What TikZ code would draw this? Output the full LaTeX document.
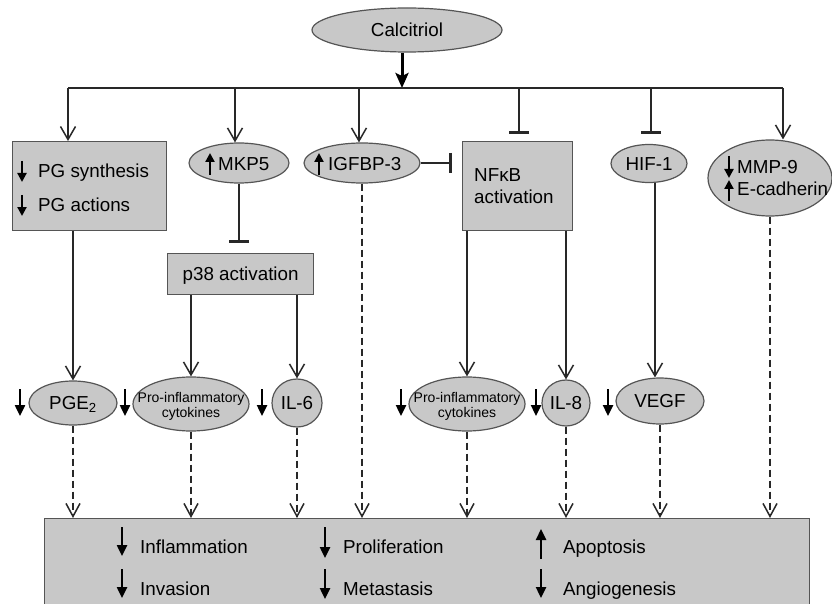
\documentclass[tikz,border=0pt]{standalone}
\usepackage{fontspec}
\setmainfont{Liberation Sans}
\usetikzlibrary{arrows.meta,shapes.geometric}
\definecolor{fillg}{RGB}{200,200,200}
\definecolor{edgec}{RGB}{85,85,85}
\definecolor{ink}{RGB}{40,40,40}
\begin{document}
\begin{tikzpicture}[x=1pt,y=-1pt,
  ell/.style={ellipse, draw=edgec, fill=fillg, line width=1.2pt, inner sep=0pt},
  box/.style={rectangle, draw=edgec, fill=fillg, line width=1.2pt, inner sep=0pt},
  lbl/.style={inner sep=0pt, font=\fontsize{18.8}{22}\selectfont, text height=13.5pt, text depth=0pt},
  small/.style={inner sep=0pt, font=\fontsize{14}{15}\selectfont, align=center},
  conn/.style={draw=ink, line width=1.3pt, -{Straight Barb[length=13pt,width=15pt,line width=1.5pt]}},
  inhib/.style={draw=ink, line width=2pt, -{Bar[width=20pt,line width=2.6pt]}},
  dconn/.style={draw=ink, line width=1.8pt, dash pattern=on 7pt off 4pt, -{Straight Barb[length=13pt,width=14pt,line width=1.5pt]}},
  thickarr/.style={draw=black, line width=3pt, -{Stealth[length=15pt,width=13pt,inset=3pt]}},
  sym/.style={draw=black, line width=2.2pt, -{Triangle[length=9pt,width=9pt]}},
  symb/.style={draw=black, line width=2.4pt, -{Triangle[length=11pt,width=10pt]}},
]
\useasboundingbox (0,0) rectangle (832,604);
\clip (0,0) rectangle (832,604);
\fill[white] (0,0) rectangle (832,604);

% ---- nodes ----
\node[ell, minimum width=190pt, minimum height=44pt] (calc) at (407,30) {};
\node[lbl] (calcT) at (calc) {Calcitriol};

\node[box, anchor=north west, minimum width=154pt, minimum height=89pt] (pgbox) at (12,141) {};
\node[lbl, anchor=west] (pgT1) at (38,171) {PG synthesis};
\node[lbl, anchor=west] (pgT2) at (38,205) {PG actions};

\node[ell, minimum width=100pt, minimum height=40pt] (mkp) at (239,163) {};
\node[lbl, anchor=west] (mkpT) at (218,164) {MKP5};

\node[ell, minimum width=116pt, minimum height=40pt] (igf) at (362,163) {};
\node[lbl, anchor=west] (igfT) at (328,164) {IGFBP-3};

\node[box, anchor=north west, minimum width=110pt, minimum height=89pt] (nfkb) at (462,141) {};
\node[lbl, anchor=west] (nfT1) at (474,175) {NFκB};
\node[lbl, anchor=west] (nfT2) at (474,197) {activation};

\node[ell, minimum width=76pt, minimum height=38pt] (hif) at (649,163.5) {};
\node[lbl] (hifT) at (hif) {HIF-1};

\node[ell, minimum width=124pt, minimum height=76pt] (mmp) at (770,178) {};
\node[lbl, anchor=west] (mmpT1) at (737,167) {MMP-9};
\node[lbl, anchor=west] (mmpT2) at (737,189) {E-cadherin};

\node[box, anchor=north west, minimum width=146pt, minimum height=41pt] (p38) at (167,253) {};
\node[lbl] (p38T) at (p38) {p38 activation};

\node[ell, minimum width=88pt, minimum height=44pt] (pge) at (73,403) {};
\node[lbl] (pgeT) at (pge) {PGE\textsubscript{2}};

\node[ell, minimum width=116pt, minimum height=54pt] (pro1) at (191,404) {};
\node[small] (pro1T) at (191,406) {Pro-inflammatory\\cytokines};

\node[ell, minimum width=50pt, minimum height=48pt] (il6) at (297,403) {};
\node[lbl] (il6T) at (il6) {IL-6};

\node[ell, minimum width=116pt, minimum height=54pt] (pro2) at (467,404) {};
\node[small] (pro2T) at (467,406) {Pro-inflammatory\\cytokines};

\node[ell, minimum width=48pt, minimum height=46pt] (il8) at (566,403) {};
\node[lbl] (il8T) at (il8) {IL-8};

\node[ell, minimum width=88pt, minimum height=46pt] (vegf) at (660,401) {};
\node[lbl] (vegfT) at (vegf) {VEGF};

\node[box, anchor=north west, minimum width=765pt, minimum height=100pt] (out) at (44,518) {};
\node[lbl, anchor=west] (o1) at (140,547) {Inflammation};
\node[lbl, anchor=west] (o2) at (140,589) {Invasion};
\node[lbl, anchor=west] (o3) at (343,547) {Proliferation};
\node[lbl, anchor=west] (o4) at (343,589) {Metastasis};
\node[lbl, anchor=west] (o5) at (563,547) {Apoptosis};
\node[lbl, anchor=west] (o6) at (563,589) {Angiogenesis};

% ---- hub and branch points ----
\coordinate (hub) at (402,88);
\coordinate (b1) at (68,88);
\coordinate (b2) at (235,88);
\coordinate (b3) at (359,88);
\coordinate (b4) at (519,88);
\coordinate (b5) at (651,88);
\coordinate (b6) at (783,88);
\coordinate (hv) at (655,0);

\draw[thickarr] (calc.south -| hub) -- (hub);
\draw[draw=ink, line width=1.3pt] (b1) -- (b6);
\draw[conn] (b1) -- (b1 |- pgbox.north);
\draw[conn] (b2) -- (b2 |- mkp.north);
\draw[conn] (b3) -- (b3 |- igf.north);
\draw[inhib, shorten >=7pt] (b4) -- (b4 |- nfkb.north);
\draw[inhib, shorten >=10pt] (b5) -- (b5 |- hif.north);
\draw[conn] (b6) -- (b6 |- mmp.north);

\draw[inhib, shorten >=10pt] (mkp.south) -- (mkp.south |- p38.north);
\draw[inhib, shorten >=10pt] (igf.east) -- (igf.east -| nfkb.west);

\draw[conn] (pge.north |- pgbox.south) -- (pge.north);
\draw[conn] (pro1.north |- p38.south) -- (pro1.north);
\draw[conn] (il6.north |- p38.south) -- (il6.north);
\draw[conn] (pro2.north |- nfkb.south) -- (pro2.north);
\draw[conn] (il8.north |- nfkb.south) -- (il8.north);
\draw[conn] (hv |- hif.south) -- (hv |- vegf.north);

\draw[dconn] (pge.south) -- (pge.south |- out.north);
\draw[dconn] (pro1.south) -- (pro1.south |- out.north);
\draw[dconn] (il6.south) -- (il6.south |- out.north);
\draw[dconn] (igf.south) -- (igf.south |- out.north);
\draw[dconn] (pro2.south) -- (pro2.south |- out.north);
\draw[dconn] (il8.south) -- (il8.south |- out.north);
\draw[dconn] (vegf.south) -- (vegf.south |- out.north);
\draw[dconn] (mmp.south) -- (mmp.south |- out.north);

% ---- up/down symbols ----
\draw[sym] (22,161) -- (22,182);
\draw[sym] (22,195) -- (22,216);
\draw[sym] (210,175) -- (210,153);
\draw[sym] (319,175) -- (319,153);
\draw[sym] (729,156) -- (729,178);
\draw[sym] (729,201) -- (729,180);

\draw[symb] (20,389) -- (20,416);
\draw[symb] (125,389) -- (125,416);
\draw[symb] (262,389) -- (262,416);
\draw[symb] (401,389) -- (401,416);
\draw[symb] (536,389) -- (536,416);
\draw[symb] (608,389) -- (608,416);

\draw[symb] (122,527) -- (122,556);
\draw[symb] (122,569) -- (122,598);
\draw[symb] (325,527) -- (325,558);
\draw[symb] (325,569) -- (325,599);
\draw[symb] (541,559) -- (541,529);
\draw[symb] (541,569) -- (541,598);
\end{tikzpicture}
\end{document}
